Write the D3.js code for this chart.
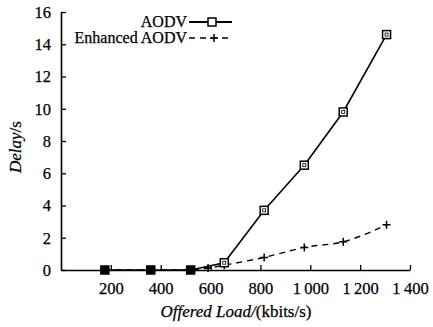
<!DOCTYPE html>
<html>
<head>
<meta charset="utf-8">
<script src="https://cdn.jsdelivr.net/npm/d3@7"></script>
<style>
  body { margin: 0; background: #fff; }
  svg { display: block; font-family: "Liberation Serif", "Times New Roman", serif; }
  text { stroke: #000; stroke-width: 0.25px; }
</style>
</head>
<body>
<svg id="chart" width="433" height="327"></svg>
<script>
// data
var aodvLoad = [176, 360, 520, 655, 815, 976, 1132, 1306];
var aodvDelay = [0, 0, 0, 0.45, 3.7, 6.5, 9.8, 14.6];
var enhLoad = [176, 360, 520, 590, 655, 815, 976, 1132, 1306];
var enhDelay = [0, 0, 0, 0.12, 0.3, 0.78, 1.4, 1.75, 2.8];
var xTicks = [200, 400, 600, 800, 1000, 1200, 1400];
var xTickLabels = ["200", "400", "600", "800", "1\u2009000", "1\u2009200", "1\u2009400"];
var yTicks = [0, 2, 4, 6, 8, 10, 12, 14, 16];

var svg = d3.select("#chart");
var plotLeft = 61, plotRight = 410, plotTop = 12, plotBottom = 270;

var x = d3.scaleLinear().domain([0, 1400]).range([plotLeft, plotRight]);
var y = d3.scaleLinear().domain([0, 16]).range([plotBottom, plotTop]);

// axes, ticks pointing inward
var xAxis = d3.axisBottom(x).tickValues(xTicks)
  .tickFormat(function(d, i) { return xTickLabels[i]; })
  .tickSizeInner(-5).tickSizeOuter(0).tickPadding(12);
var yAxis = d3.axisLeft(y).tickValues(yTicks)
  .tickSizeInner(-5).tickSizeOuter(0).tickPadding(10);

var gx = svg.append("g").attr("transform", "translate(0," + plotBottom + ")").call(xAxis);
var gy = svg.append("g").attr("transform", "translate(" + plotLeft + ",0)").call(yAxis);

[gx, gy].forEach(function(g) {
  g.select(".domain").attr("stroke", "#000").attr("stroke-width", 1.6);
  g.selectAll(".tick line").attr("stroke", "#000").attr("stroke-width", 1.3);
  g.selectAll(".tick text").attr("fill", "#000").style("font-size", "16.5px")
    .style("font-family", "Liberation Serif, serif");
});
gx.selectAll(".tick text").attr("dy", "0.71em");

// axis titles
var xt = svg.append("text").attr("x", 236).attr("y", 317).attr("text-anchor", "middle")
  .style("font-size", "17px");
xt.append("tspan").style("font-style", "italic").text("Offered Load/");
xt.append("tspan").text("(kbits/s)");

var yt = svg.append("text").attr("transform", "translate(21,147) rotate(-90)")
  .attr("text-anchor", "middle").style("font-size", "17px");
yt.append("tspan").style("font-style", "italic").text("Delay");
yt.append("tspan").text("/s");

// lines
var aodv = aodvLoad.map(function(d, i) { return [d, aodvDelay[i]]; });
var enh = enhLoad.map(function(d, i) { return [d, enhDelay[i]]; });

var line = d3.line().x(function(d) { return x(d[0]); }).y(function(d) { return y(d[1]); });
var curved = d3.line().curve(d3.curveMonotoneX)
  .x(function(d) { return x(d[0]); }).y(function(d) { return y(d[1]); });

svg.append("path").datum(enh).attr("d", curved).attr("fill", "none")
  .attr("stroke", "#000").attr("stroke-width", 1.4).attr("stroke-dasharray", "6,5");
svg.append("path").datum(aodv).attr("d", line).attr("fill", "none")
  .attr("stroke", "#000").attr("stroke-width", 1.6);

// markers
function plus(g, cx, cy) {
  g.append("path").attr("d", "M" + (cx - 4) + "," + cy + "H" + (cx + 4) + "M" + cx + "," + (cy - 4) + "V" + (cy + 4))
    .attr("stroke", "#000").attr("stroke-width", 1.5);
}
var mk = svg.append("g");
enh.forEach(function(d) { plus(mk, x(d[0]), y(d[1])); });
aodv.forEach(function(d) {
  var filled = d[1] === 0;
  mk.append("rect").attr("x", x(d[0]) - 4).attr("y", y(d[1]) - 4)
    .attr("width", 8).attr("height", 8)
    .attr("fill", filled ? "#000" : "#fff").attr("stroke", "#000").attr("stroke-width", 1.5);
  if (!filled) {
    mk.append("rect").attr("x", x(d[0]) - 1.5).attr("y", y(d[1]) - 1.5)
      .attr("width", 3).attr("height", 3).attr("fill", "none").attr("stroke", "#000").attr("stroke-width", 0.8);
  }
});

// legend
var lg = svg.append("g").style("font-size", "16px");
lg.append("text").attr("x", 187).attr("y", 26.5).attr("text-anchor", "end").text("AODV");
lg.append("line").attr("x1", 189).attr("x2", 232).attr("y1", 22).attr("y2", 22)
  .attr("stroke", "#000").attr("stroke-width", 1.8);
lg.append("rect").attr("x", 208).attr("y", 18).attr("width", 8).attr("height", 8)
  .attr("fill", "#fff").attr("stroke", "#000").attr("stroke-width", 1.5);
lg.append("text").attr("x", 187).attr("y", 43).attr("text-anchor", "end").text("Enhanced AODV");
lg.append("line").attr("x1", 189).attr("x2", 230).attr("y1", 38).attr("y2", 38)
  .attr("stroke", "#000").attr("stroke-width", 1.4).attr("stroke-dasharray", "6,5");
plus(lg, 214, 38);
</script>
</body>
</html>
